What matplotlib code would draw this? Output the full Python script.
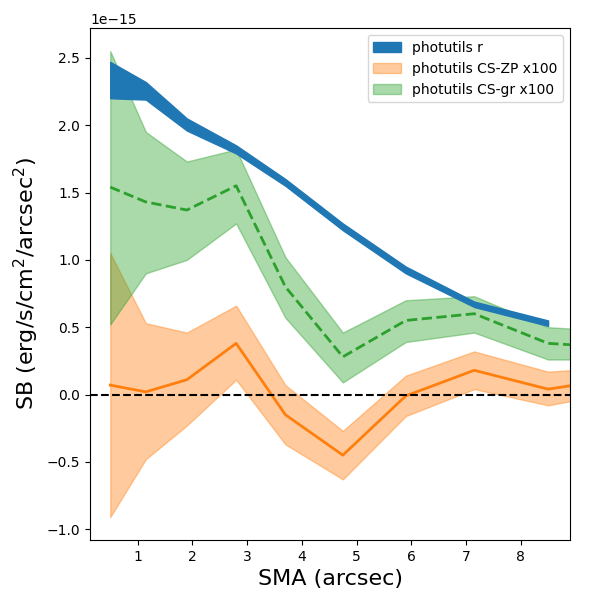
import numpy as np
import matplotlib
matplotlib.use("Agg")
import matplotlib.pyplot as plt

sma = [0.5, 1.15, 1.9, 2.8, 3.7, 4.75, 5.9, 7.15, 8.5]
sma_ext = sma + [9.3]

r_hi = [2.47, 2.32, 2.05, 1.85, 1.60, 1.27, 0.95, 0.69, 0.55]
r_lo = [2.20, 2.19, 1.96, 1.79, 1.55, 1.22, 0.90, 0.65, 0.51]

gr_mid = [1.54, 1.43, 1.37, 1.55, 0.80, 0.28, 0.55, 0.60, 0.38, 0.36]
gr_hi = [2.55, 1.95, 1.73, 1.82, 1.02, 0.46, 0.70, 0.73, 0.50, 0.48]
gr_lo = [0.52, 0.90, 1.00, 1.27, 0.57, 0.09, 0.39, 0.46, 0.26, 0.26]

zp_mid = [0.07, 0.02, 0.11, 0.38, -0.15, -0.45, -0.01, 0.18, 0.04, 0.09]
zp_hi = [1.05, 0.53, 0.46, 0.66, 0.07, -0.27, 0.14, 0.32, 0.17, 0.19]
zp_lo = [-0.91, -0.48, -0.23, 0.11, -0.37, -0.63, -0.16, 0.04, -0.08, -0.02]

s = 1e-15
fig, ax = plt.subplots(figsize=(6, 6), dpi=100)
ax.fill_between(sma, np.array(r_lo) * s, np.array(r_hi) * s, color="C0", label="photutils r", zorder=3)
ax.fill_between(sma_ext, np.array(zp_lo) * s, np.array(zp_hi) * s, color="C1", alpha=0.4,
                label="photutils CS-ZP x100")
ax.plot(sma_ext, np.array(zp_mid) * s, color="C1", lw=2)
ax.fill_between(sma_ext, np.array(gr_lo) * s, np.array(gr_hi) * s, color="C2", alpha=0.4,
                label="photutils CS-gr x100")
ax.plot(sma_ext, np.array(gr_mid) * s, color="C2", lw=2, ls="--")
ax.axhline(0, color="k", ls="--")
ax.set_xlim(0.13, 8.9)
ax.set_ylim(-1.08e-15, 2.72e-15)
ax.set_xlabel("SMA (arcsec)", fontsize=16)
ax.set_ylabel("SB (erg/s/cm$^2$/arcsec$^2$)", fontsize=16)
ax.legend(loc="upper right")
fig.subplots_adjust(left=0.15, right=0.95, top=0.953, bottom=0.1)
fig.savefig("out.png")
